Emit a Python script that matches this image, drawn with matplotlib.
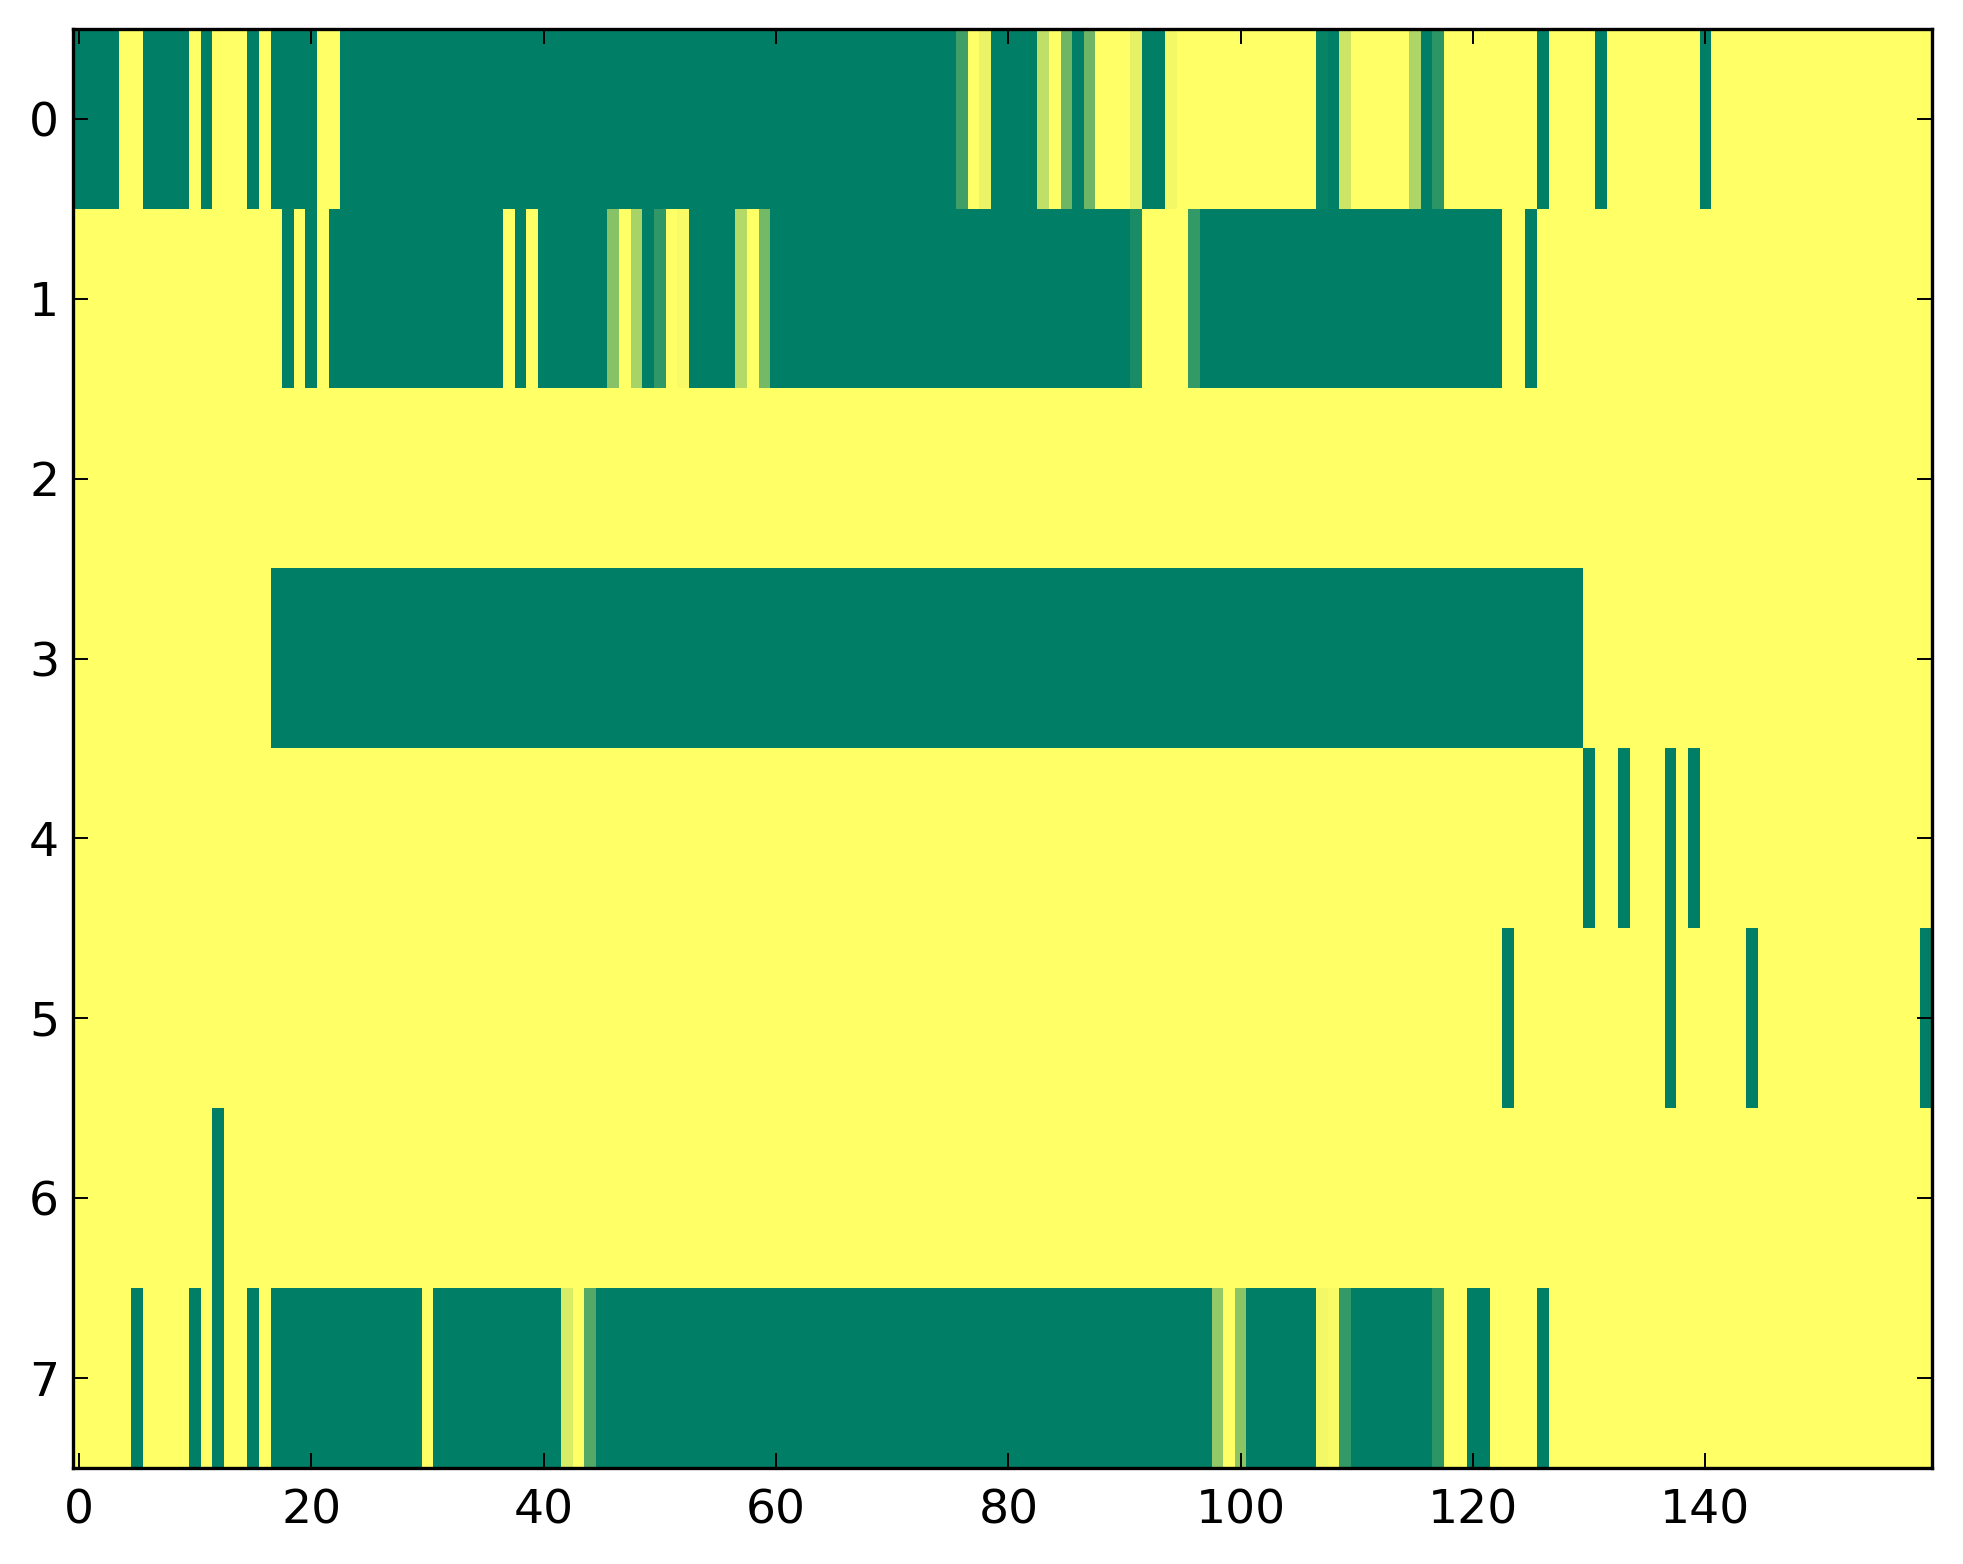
import numpy as np
import matplotlib.pyplot as plt

# cell values (8 rows x 160 columns), 0 = green, 1 = yellow
row_0 = [0, 0, 0, 0, 1, 1, 0, 0, 0, 0, 1, 0, 1, 1, 1, 0, 1, 0, 0, 0,
         0, 1, 1, 0, 0, 0, 0, 0, 0, 0, 0, 0, 0, 0, 0, 0, 0, 0, 0, 0,
         0, 0, 0, 0, 0, 0, 0, 0, 0, 0, 0, 0, 0, 0, 0, 0, 0, 0, 0, 0,
         0, 0, 0, 0, 0, 0, 0, 0, 0, 0, 0, 0, 0, 0, 0, 0, .25, 1, .92, 0,
         0, 0, 0, .75, 1, .43, 0, .43, 1, 1, 1, .9, 0, 0, .95, 1, 1, 1, 1, 1,
         1, 1, 1, 1, 1, 1, 1, .03, 0, .8, 1, 1, 1, 1, 1, .68, 0, .17, 1, 1,
         1, 1, 1, 1, 1, 1, 0, 1, 1, 1, 1, 0, 1, 1, 1, 1, 1, 1, 1, 1,
         0, 1, 1, 1, 1, 1, 1, 1, 1, 1, 1, 1, 1, 1, 1, 1, 1, 1, 1, 1]

row_1 = [1, 1, 1, 1, 1, 1, 1, 1, 1, 1, 1, 1, 1, 1, 1, 1, 1, 1, 0, 1,
         0, 1, 0, 0, 0, 0, 0, 0, 0, 0, 0, 0, 0, 0, 0, 0, 0, 1, 0, 1,
         0, 0, 0, 0, 0, 0, .53, 1, .66, 0, .19, 1, .97, 0, 0, 0, 0, .7, 1, .45,
         0, 0, 0, 0, 0, 0, 0, 0, 0, 0, 0, 0, 0, 0, 0, 0, 0, 0, 0, 0,
         0, 0, 0, 0, 0, 0, 0, 0, 0, 0, 0, .1, 1, 1, 1, 1, .2, 0, 0, 0,
         0, 0, 0, 0, 0, 0, 0, 0, 0, 0, 0, 0, 0, 0, 0, 0, 0, 0, 0, 0,
         0, 0, 0, 1, 1, 0, 1, 1, 1, 1, 1, 1, 1, 1, 1, 1, 1, 1, 1, 1,
         1, 1, 1, 1, 1, 1, 1, 1, 1, 1, 1, 1, 1, 1, 1, 1, 1, 1, 1, 1]

row_2 = [1, 1, 1, 1, 1, 1, 1, 1, 1, 1, 1, 1, 1, 1, 1, 1, 1, 1, 1, 1,
         1, 1, 1, 1, 1, 1, 1, 1, 1, 1, 1, 1, 1, 1, 1, 1, 1, 1, 1, 1,
         1, 1, 1, 1, 1, 1, 1, 1, 1, 1, 1, 1, 1, 1, 1, 1, 1, 1, 1, 1,
         1, 1, 1, 1, 1, 1, 1, 1, 1, 1, 1, 1, 1, 1, 1, 1, 1, 1, 1, 1,
         1, 1, 1, 1, 1, 1, 1, 1, 1, 1, 1, 1, 1, 1, 1, 1, 1, 1, 1, 1,
         1, 1, 1, 1, 1, 1, 1, 1, 1, 1, 1, 1, 1, 1, 1, 1, 1, 1, 1, 1,
         1, 1, 1, 1, 1, 1, 1, 1, 1, 1, 1, 1, 1, 1, 1, 1, 1, 1, 1, 1,
         1, 1, 1, 1, 1, 1, 1, 1, 1, 1, 1, 1, 1, 1, 1, 1, 1, 1, 1, 1]

row_3 = [1, 1, 1, 1, 1, 1, 1, 1, 1, 1, 1, 1, 1, 1, 1, 1, 1, 0, 0, 0,
         0, 0, 0, 0, 0, 0, 0, 0, 0, 0, 0, 0, 0, 0, 0, 0, 0, 0, 0, 0,
         0, 0, 0, 0, 0, 0, 0, 0, 0, 0, 0, 0, 0, 0, 0, 0, 0, 0, 0, 0,
         0, 0, 0, 0, 0, 0, 0, 0, 0, 0, 0, 0, 0, 0, 0, 0, 0, 0, 0, 0,
         0, 0, 0, 0, 0, 0, 0, 0, 0, 0, 0, 0, 0, 0, 0, 0, 0, 0, 0, 0,
         0, 0, 0, 0, 0, 0, 0, 0, 0, 0, 0, 0, 0, 0, 0, 0, 0, 0, 0, 0,
         0, 0, 0, 0, 0, 0, 0, 0, 0, 0, 1, 1, 1, 1, 1, 1, 1, 1, 1, 1,
         1, 1, 1, 1, 1, 1, 1, 1, 1, 1, 1, 1, 1, 1, 1, 1, 1, 1, 1, 1]

row_4 = [1, 1, 1, 1, 1, 1, 1, 1, 1, 1, 1, 1, 1, 1, 1, 1, 1, 1, 1, 1,
         1, 1, 1, 1, 1, 1, 1, 1, 1, 1, 1, 1, 1, 1, 1, 1, 1, 1, 1, 1,
         1, 1, 1, 1, 1, 1, 1, 1, 1, 1, 1, 1, 1, 1, 1, 1, 1, 1, 1, 1,
         1, 1, 1, 1, 1, 1, 1, 1, 1, 1, 1, 1, 1, 1, 1, 1, 1, 1, 1, 1,
         1, 1, 1, 1, 1, 1, 1, 1, 1, 1, 1, 1, 1, 1, 1, 1, 1, 1, 1, 1,
         1, 1, 1, 1, 1, 1, 1, 1, 1, 1, 1, 1, 1, 1, 1, 1, 1, 1, 1, 1,
         1, 1, 1, 1, 1, 1, 1, 1, 1, 1, 0, 1, 1, 0, 1, 1, 1, 0, 1, 0,
         1, 1, 1, 1, 1, 1, 1, 1, 1, 1, 1, 1, 1, 1, 1, 1, 1, 1, 1, 1]

row_5 = [1, 1, 1, 1, 1, 1, 1, 1, 1, 1, 1, 1, 1, 1, 1, 1, 1, 1, 1, 1,
         1, 1, 1, 1, 1, 1, 1, 1, 1, 1, 1, 1, 1, 1, 1, 1, 1, 1, 1, 1,
         1, 1, 1, 1, 1, 1, 1, 1, 1, 1, 1, 1, 1, 1, 1, 1, 1, 1, 1, 1,
         1, 1, 1, 1, 1, 1, 1, 1, 1, 1, 1, 1, 1, 1, 1, 1, 1, 1, 1, 1,
         1, 1, 1, 1, 1, 1, 1, 1, 1, 1, 1, 1, 1, 1, 1, 1, 1, 1, 1, 1,
         1, 1, 1, 1, 1, 1, 1, 1, 1, 1, 1, 1, 1, 1, 1, 1, 1, 1, 1, 1,
         1, 1, 1, 0, 1, 1, 1, 1, 1, 1, 1, 1, 1, 1, 1, 1, 1, 0, 1, 1,
         1, 1, 1, 1, 0, 1, 1, 1, 1, 1, 1, 1, 1, 1, 1, 1, 1, 1, 1, 0]

row_6 = [1, 1, 1, 1, 1, 1, 1, 1, 1, 1, 1, 1, 0, 1, 1, 1, 1, 1, 1, 1,
         1, 1, 1, 1, 1, 1, 1, 1, 1, 1, 1, 1, 1, 1, 1, 1, 1, 1, 1, 1,
         1, 1, 1, 1, 1, 1, 1, 1, 1, 1, 1, 1, 1, 1, 1, 1, 1, 1, 1, 1,
         1, 1, 1, 1, 1, 1, 1, 1, 1, 1, 1, 1, 1, 1, 1, 1, 1, 1, 1, 1,
         1, 1, 1, 1, 1, 1, 1, 1, 1, 1, 1, 1, 1, 1, 1, 1, 1, 1, 1, 1,
         1, 1, 1, 1, 1, 1, 1, 1, 1, 1, 1, 1, 1, 1, 1, 1, 1, 1, 1, 1,
         1, 1, 1, 1, 1, 1, 1, 1, 1, 1, 1, 1, 1, 1, 1, 1, 1, 1, 1, 1,
         1, 1, 1, 1, 1, 1, 1, 1, 1, 1, 1, 1, 1, 1, 1, 1, 1, 1, 1, 1]

row_7 = [1, 1, 1, 1, 1, 0, 1, 1, 1, 1, 0, 1, 0, 1, 1, 0, 1, 0, 0, 0,
         0, 0, 0, 0, 0, 0, 0, 0, 0, 0, 1, 0, 0, 0, 0, 0, 0, 0, 0, 0,
         0, 0, .85, 1, .33, 0, 0, 0, 0, 0, 0, 0, 0, 0, 0, 0, 0, 0, 0, 0,
         0, 0, 0, 0, 0, 0, 0, 0, 0, 0, 0, 0, 0, 0, 0, 0, 0, 0, 0, 0,
         0, 0, 0, 0, 0, 0, 0, 0, 0, 0, 0, 0, 0, 0, 0, 0, 0, 0, .58, 1,
         .55, 0, 0, 0, 0, 0, 0, .95, .97, .2, 0, 0, 0, 0, 0, 0, 0, .17, 1, 1,
         0, 0, 1, 1, 1, 1, 0, 1, 1, 1, 1, 1, 1, 1, 1, 1, 1, 1, 1, 1,
         1, 1, 1, 1, 1, 1, 1, 1, 1, 1, 1, 1, 1, 1, 1, 1, 1, 1, 1, 1]

x_ticks = [0, 20, 40, 60, 80, 100, 120, 140]
y_ticks = [0, 1, 2, 3, 4, 5, 6, 7]

grid = np.array([row_0, row_1, row_2, row_3, row_4, row_5, row_6, row_7], dtype=float)

fig = plt.figure(figsize=(9.815, 7.82), dpi=200)
ax = fig.add_axes([0.0372, 0.0614, 0.947, 0.920])
ax.imshow(grid, cmap='summer', aspect='auto', interpolation='nearest',
          vmin=0, vmax=1)

# old-style ticks: inward, on all four sides
ax.set_xticks(x_ticks)
ax.set_yticks(y_ticks)
ax.tick_params(direction='in', top=True, right=True, length=5.4, width=0.7,
               labelsize=17)
ax.tick_params(axis='x', pad=7.5)
ax.tick_params(axis='y', pad=5)
for spine in ax.spines.values():
    spine.set_linewidth(1.2)

fig.savefig('out.png', dpi=200)
